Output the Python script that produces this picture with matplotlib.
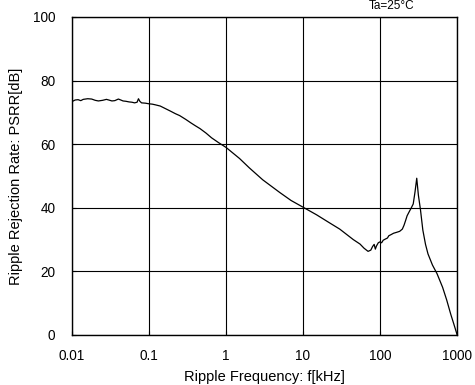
import matplotlib
matplotlib.use("Agg")
import matplotlib.pyplot as plt
from matplotlib.ticker import FixedLocator, FixedFormatter, NullLocator

freq_khz = [0.010, 0.011, 0.012, 0.013, 0.014, 0.016, 0.018, 0.020, 0.022, 0.025,
            0.028, 0.030, 0.033, 0.036, 0.040, 0.043, 0.046, 0.050, 0.055, 0.060,
            0.065, 0.070, 0.073, 0.076, 0.080, 0.090, 0.10, 0.11, 0.12, 0.14,
            0.16, 0.19, 0.22, 0.25, 0.30, 0.35, 0.40, 0.46, 0.55, 0.65,
            0.80, 1.0, 1.5, 2.0, 3.0, 5.0, 7.0, 10, 15, 22,
            30, 45, 55, 62, 70, 76, 80, 84, 87, 90,
            95, 100, 105, 110, 118, 125, 130, 140, 150, 165,
            180, 195, 205, 215, 225, 240, 255, 270, 285, 300,
            315, 335, 360, 390, 420, 480, 550, 650, 735, 830,
            900, 1000]
psrr_db = [73.4, 73.9, 74.0, 73.7, 74.1, 74.3, 74.2, 73.8, 73.6, 73.8,
           74.1, 73.9, 73.6, 73.7, 74.2, 73.9, 73.6, 73.5, 73.3, 73.2,
           73.0, 73.2, 74.3, 73.5, 73.0, 72.9, 72.7, 72.6, 72.4, 72.0,
           71.3, 70.4, 69.6, 69.0, 67.8, 66.7, 65.8, 64.9, 63.5, 62.0,
           60.5, 59.0, 55.5, 52.6, 48.8, 44.8, 42.3, 40.2, 37.8, 35.3,
           33.3, 30.0, 28.6, 27.3, 26.3, 26.7, 27.8, 28.5, 27.0, 28.0,
           29.0, 29.3, 29.0, 29.8, 30.2, 30.5, 31.2, 31.6, 32.0, 32.3,
           32.6, 33.3, 34.5, 36.0, 37.5, 38.8, 40.0, 41.2, 45.0, 49.3,
           44.0, 39.5, 33.0, 28.5, 25.5, 22.0, 19.3, 15.0, 11.0, 6.5,
           3.8, 0.2]

x_ticks = [0.01, 0.1, 1, 10, 100, 1000]
x_tick_labels = ["0.01", "0.1", "1", "10", "100", "1000"]
y_ticks = [0, 20, 40, 60, 80, 100]
y_tick_labels = ["0", "20", "40", "60", "80", "100"]

plt.rcParams['font.family'] = ['Liberation Sans', 'DejaVu Sans']
FS = 10.5
TFS = 9.8
fig = plt.figure(figsize=(4.75, 3.85), dpi=100)
ax = fig.add_axes([72/475, 50/385, (457-72)/475, (335-17)/385])

ax.plot(freq_khz, psrr_db, color='black', linewidth=0.9)
ax.set_xscale('log')
ax.set_xlim(0.01, 1000)
ax.set_ylim(0, 100)
ax.xaxis.set_major_locator(FixedLocator(x_ticks))
ax.xaxis.set_major_formatter(FixedFormatter(x_tick_labels))
ax.xaxis.set_minor_locator(NullLocator())
ax.yaxis.set_major_locator(FixedLocator(y_ticks))
ax.yaxis.set_major_formatter(FixedFormatter(y_tick_labels))
ax.grid(True, color='black', linewidth=0.8)
ax.tick_params(axis='both', which='major', direction='in', length=3, width=0.8,
               labelsize=TFS)
ax.tick_params(axis='x', pad=10)
ax.tick_params(axis='y', pad=12)
for s in ax.spines.values():
    s.set_linewidth(1.0)
    s.set_color('black')

ax.set_xlabel("Ripple Frequency: f[kHz]", fontsize=FS)
ax.set_ylabel("Ripple Rejection Rate: PSRR[dB]", fontsize=FS)
ax.xaxis.label.set_va('center')
ax.yaxis.label.set_va('center')
ax.xaxis.set_label_coords(0.5, (335 - 377) / 318)
ax.yaxis.set_label_coords((16 - 72) / 385, 0.5)
fig.text(392/475, 1.0, "Ta=25°C", fontsize=FS - 2, ha='center', va='top')

fig.savefig("out.png", dpi=100)
